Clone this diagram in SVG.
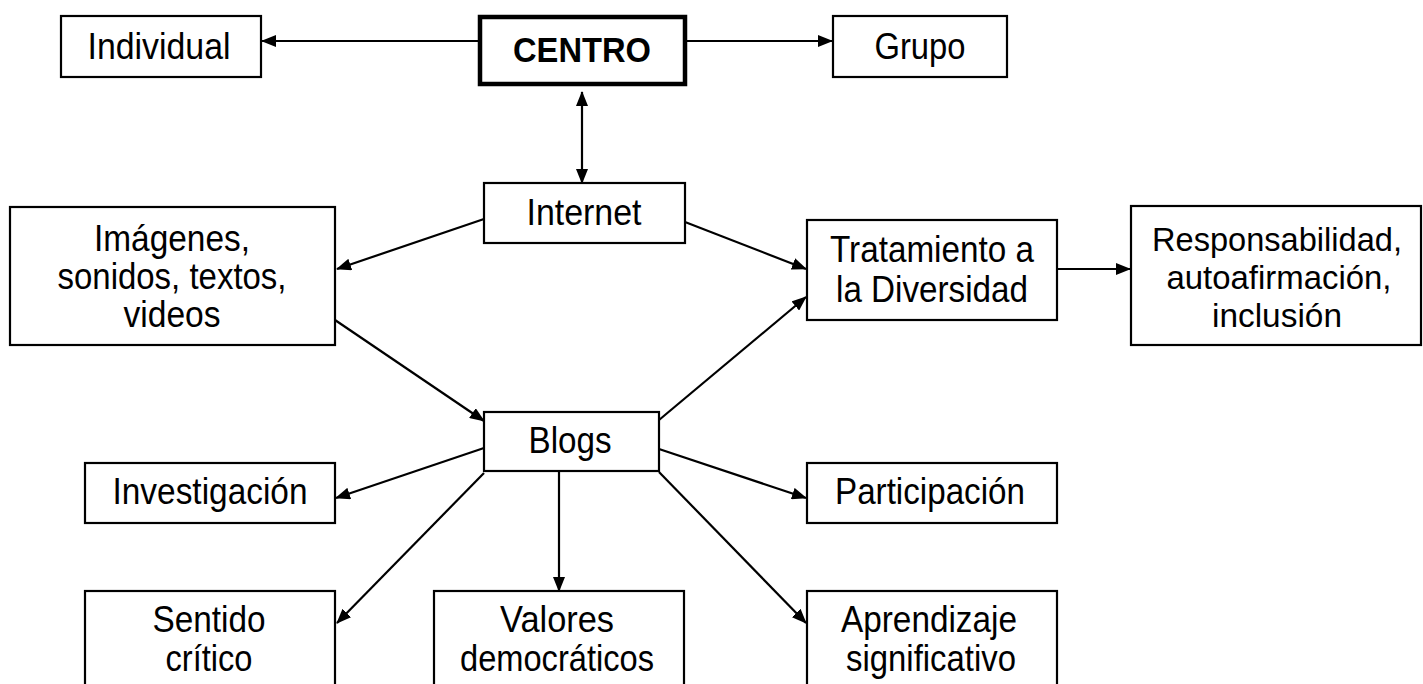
<svg xmlns="http://www.w3.org/2000/svg" width="1423" height="684" viewBox="0 0 1423 684">
<defs>
<marker id="ah" markerUnits="userSpaceOnUse" markerWidth="15" markerHeight="12" refX="14" refY="6" orient="auto-start-reverse">
<path d="M0,0 L15,6 L0,12 Z" fill="#000"/>
</marker>
<style>
.box{fill:#fff;stroke:#000;stroke-width:2.2}
.thick{fill:#fff;stroke:#000;stroke-width:4.5}
.t{font-family:"Liberation Sans",Arial,sans-serif;font-size:36px;fill:#000;text-anchor:middle}
.b{font-weight:bold;font-size:35px}
.s{font-size:34px}
.c{stroke:#000;stroke-width:2.2;fill:none;marker-end:url(#ah)}
</style>
</defs>
<rect width="1423" height="684" fill="#fff"/>
<g id="connectors">
<line class="c" x1="480" y1="41" x2="262" y2="41"/>
<line class="c" x1="686" y1="41" x2="832" y2="41"/>
<line class="c" x1="582" y1="183" x2="582" y2="92" style="marker-start:url(#ah)"/>
<line class="c" x1="484" y1="219" x2="337" y2="269"/>
<line class="c" x1="685" y1="222" x2="806" y2="269"/>
<line class="c" x1="335" y1="320" x2="484" y2="421"/>
<line class="c" x1="659" y1="420" x2="806" y2="297"/>
<line class="c" x1="1057" y1="269" x2="1130" y2="269"/>
<line class="c" x1="484" y1="448" x2="336" y2="498"/>
<line class="c" x1="659" y1="449" x2="806" y2="498"/>
<line class="c" x1="484" y1="473" x2="337" y2="623"/>
<line class="c" x1="559" y1="472" x2="559" y2="591"/>
<line class="c" x1="659" y1="472" x2="806" y2="623"/>
</g>
<g id="centro"><rect class="thick" x="480" y="17" width="205" height="67"/><text class="t b" x="582" y="62" textLength="138" lengthAdjust="spacingAndGlyphs">CENTRO</text></g>
<g id="individual"><rect class="box" x="61" y="16" width="200" height="61"/><text class="t" x="159" y="59" textLength="143" lengthAdjust="spacingAndGlyphs">Individual</text></g>
<g id="grupo"><rect class="box" x="833" y="16" width="174" height="61"/><text class="t" x="920" y="59" textLength="91" lengthAdjust="spacingAndGlyphs">Grupo</text></g>
<g id="internet"><rect class="box" x="484" y="183" width="201" height="60"/><text class="t" x="584" y="225" textLength="115" lengthAdjust="spacingAndGlyphs">Internet</text></g>
<g id="imagenes"><rect class="box" x="10" y="207" width="325" height="138"/>
<text class="t" x="172" y="251" textLength="156" lengthAdjust="spacingAndGlyphs">Imágenes,</text>
<text class="t" x="172" y="289" textLength="229" lengthAdjust="spacingAndGlyphs">sonidos, textos,</text>
<text class="t" x="172" y="327" textLength="97" lengthAdjust="spacingAndGlyphs">videos</text></g>
<g id="tratamiento"><rect class="box" x="807" y="220" width="250" height="100"/>
<text class="t" x="932" y="262" textLength="204" lengthAdjust="spacingAndGlyphs">Tratamiento a</text>
<text class="t" x="932" y="302" textLength="192" lengthAdjust="spacingAndGlyphs">la Diversidad</text></g>
<g id="responsabilidad"><rect class="box" x="1131" y="206" width="290" height="139"/>
<text class="t s" x="1277" y="251" textLength="250" lengthAdjust="spacingAndGlyphs">Responsabilidad,</text>
<text class="t s" x="1279" y="289" textLength="225" lengthAdjust="spacingAndGlyphs">autoafirmación,</text>
<text class="t s" x="1277" y="327" textLength="130" lengthAdjust="spacingAndGlyphs">inclusión</text></g>
<g id="blogs"><rect class="box" x="484" y="412" width="175" height="59"/><text class="t" x="570" y="453" textLength="83" lengthAdjust="spacingAndGlyphs">Blogs</text></g>
<g id="investigacion"><rect class="box" x="85" y="463" width="250" height="60"/><text class="t" x="210" y="504" textLength="195" lengthAdjust="spacingAndGlyphs">Investigación</text></g>
<g id="participacion"><rect class="box" x="807" y="463" width="250" height="60"/><text class="t" x="930" y="504" textLength="190" lengthAdjust="spacingAndGlyphs">Participación</text></g>
<g id="sentido"><rect class="box" x="85" y="591" width="250" height="110"/>
<text class="t" x="209" y="632" textLength="113" lengthAdjust="spacingAndGlyphs">Sentido</text>
<text class="t" x="209" y="671" textLength="87" lengthAdjust="spacingAndGlyphs">crítico</text></g>
<g id="valores"><rect class="box" x="434" y="591" width="250" height="110"/>
<text class="t" x="557" y="632" textLength="114" lengthAdjust="spacingAndGlyphs">Valores</text>
<text class="t" x="557" y="671" textLength="194" lengthAdjust="spacingAndGlyphs">democráticos</text></g>
<g id="aprendizaje"><rect class="box" x="807" y="591" width="250" height="110"/>
<text class="t" x="929" y="632" textLength="176" lengthAdjust="spacingAndGlyphs">Aprendizaje</text>
<text class="t" x="931" y="671" textLength="170" lengthAdjust="spacingAndGlyphs">significativo</text></g>
</svg>
